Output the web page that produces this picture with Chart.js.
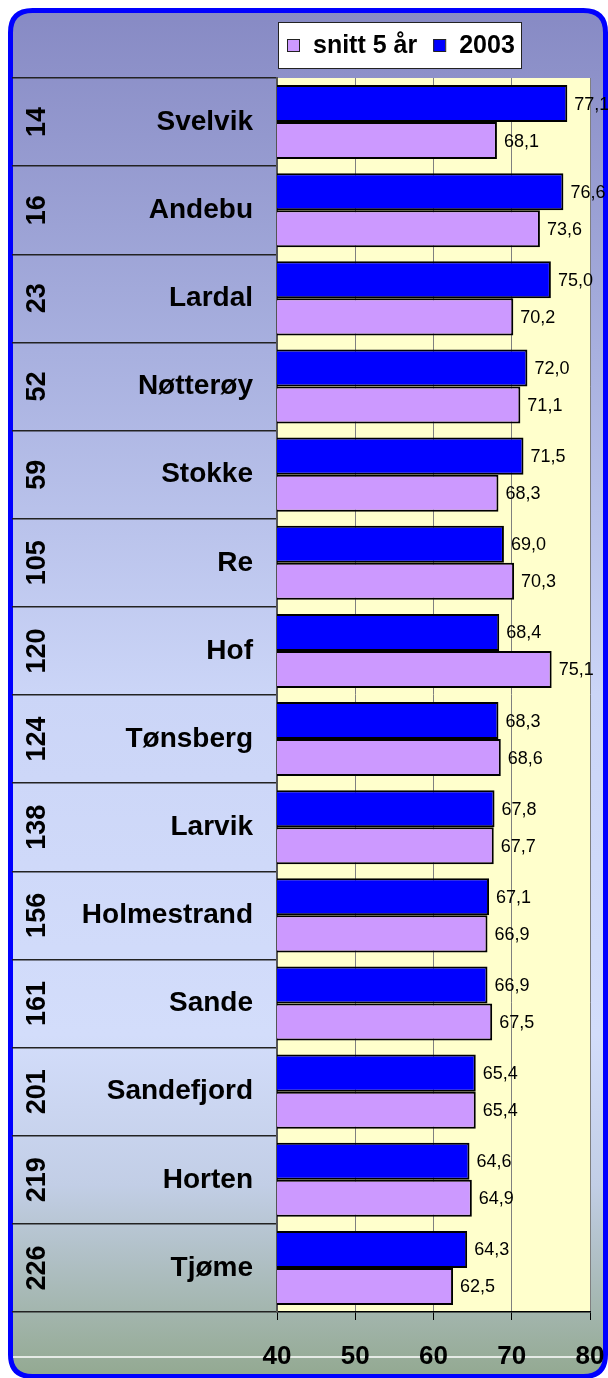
<!DOCTYPE html>
<html>
<head>
<meta charset="utf-8">
<title>Vestfold kommuner</title>
<script src="https://cdn.jsdelivr.net/npm/chart.js@4/dist/chart.umd.min.js"></script>
<style>
  html, body { margin: 0; padding: 0; background: #fff; }
  #wrap { width: 608px; height: 1378px; }
</style>
</head>
<body>
<div id="wrap"><canvas id="chart" width="608" height="1378"></canvas></div>
<script>
// data (rank, municipality, 2003 and 5-year average)
const ranks = ['14', '16', '23', '52', '59', '105', '120', '124', '138', '156', '161', '201', '219', '226'];
const names = ['Svelvik', 'Andebu', 'Lardal', 'Nøtterøy', 'Stokke', 'Re', 'Hof', 'Tønsberg', 'Larvik', 'Holmestrand', 'Sande', 'Sandefjord', 'Horten', 'Tjøme'];
const values2003 = [77.1, 76.6, 75.0, 72.0, 71.5, 69.0, 68.4, 68.3, 67.8, 67.1, 66.9, 65.4, 64.6, 64.3];
const snitt5 = [68.1, 73.6, 70.2, 71.1, 68.3, 70.3, 75.1, 68.6, 67.7, 66.9, 67.5, 65.4, 64.9, 62.5];
const xTicks = [40, 50, 60, 70, 80];

const FONT = "'Liberation Sans', Arial, sans-serif";
const fmt = v => v.toFixed(1).replace('.', ',');

function roundRect(ctx, x, y, w, h, r) {
  ctx.beginPath();
  ctx.moveTo(x + r, y);
  ctx.lineTo(x + w - r, y);
  ctx.quadraticCurveTo(x + w, y, x + w, y + r);
  ctx.lineTo(x + w, y + h - r);
  ctx.quadraticCurveTo(x + w, y + h, x + w - r, y + h);
  ctx.lineTo(x + r, y + h);
  ctx.quadraticCurveTo(x, y + h, x, y + h - r);
  ctx.lineTo(x, y + r);
  ctx.quadraticCurveTo(x, y, x + r, y);
  ctx.closePath();
}

// frame, gradient background, plot fill and the white line behind the tick labels
const frame = {
  id: 'frame',
  beforeDraw(chart) {
    const { ctx, chartArea: a } = chart;
    ctx.save();
    roundRect(ctx, 10.5, 10.5, 595, 1366, 22);
    const g = ctx.createLinearGradient(0, 10, 0, 1376);
    g.addColorStop(0, '#878ac4');
    g.addColorStop(0.25, '#a8b0df');
    g.addColorStop(0.5, '#cbd5f7');
    g.addColorStop(0.75, '#d3ddfb');
    g.addColorStop(0.86, '#c2cee6');
    g.addColorStop(1, '#93a991');
    ctx.fillStyle = g;
    ctx.fill();
    ctx.strokeStyle = '#0000ff';
    ctx.lineWidth = 5;
    ctx.stroke();
    ctx.fillStyle = '#ffffcc';
    ctx.fillRect(a.left, a.top, a.right - a.left, a.bottom - a.top);
    ctx.strokeStyle = '#ffffff';
    ctx.lineWidth = 1.5;
    ctx.beginPath();
    ctx.moveTo(13, 1357);
    ctx.lineTo(602, 1357);
    ctx.stroke();
    ctx.restore();
  }
};

// rank numbers, rotated, in the left column
const rankLabels = {
  id: 'rankLabels',
  afterDraw(chart) {
    const { ctx } = chart;
    const y = chart.scales.y;
    ctx.save();
    ctx.font = 'bold 27px ' + FONT;
    ctx.fillStyle = '#000';
    ctx.textAlign = 'center';
    ctx.textBaseline = 'middle';
    ranks.forEach((r, i) => {
      ctx.save();
      ctx.translate(37, y.getPixelForValue(i));
      ctx.rotate(-Math.PI / 2);
      ctx.fillText(r, 0, 1);
      ctx.restore();
    });
    ctx.restore();
  }
};

// value labels at the end of each bar
const valueLabels = {
  id: 'valueLabels',
  afterDatasetsDraw(chart) {
    const { ctx } = chart;
    ctx.save();
    ctx.font = '18px ' + FONT;
    ctx.fillStyle = '#000';
    ctx.textAlign = 'left';
    ctx.textBaseline = 'middle';
    chart.data.datasets.forEach((ds, di) => {
      chart.getDatasetMeta(di).data.forEach((bar, i) => {
        ctx.fillText(fmt(ds.data[i]), bar.x + 7, bar.y + 1);
      });
    });
    ctx.restore();
  }
};

// boxed legend, 'snitt 5 år' first
const boxLegend = {
  id: 'boxLegend',
  afterDraw(chart) {
    const { ctx } = chart;
    const items = [chart.data.datasets[1], chart.data.datasets[0]];
    ctx.save();
    ctx.font = 'bold 25px ' + FONT;
    ctx.fillStyle = '#fff';
    ctx.fillRect(278, 22, 243, 46);
    ctx.strokeStyle = '#222';
    ctx.lineWidth = 1;
    ctx.strokeRect(278.5, 22.5, 243, 46);
    let x = 287;
    items.forEach(ds => {
      ctx.fillStyle = ds.backgroundColor;
      ctx.fillRect(x, 39, 12, 12);
      ctx.strokeStyle = '#222';
      ctx.strokeRect(x + 0.5, 39.5, 12, 12);
      x += 26;
      ctx.fillStyle = '#000';
      ctx.textBaseline = 'middle';
      ctx.fillText(ds.label, x, 46);
      x += ctx.measureText(ds.label).width + 16;
    });
    ctx.restore();
  }
};

new Chart(document.getElementById('chart'), {
  type: 'bar',
  data: {
    labels: names,
    datasets: [
      { label: '2003', data: values2003, backgroundColor: '#0000ff', borderColor: '#000', borderWidth: 2, borderSkipped: false },
      { label: 'snitt 5 år', data: snitt5, backgroundColor: '#cc99ff', borderColor: '#000', borderWidth: 2, borderSkipped: false }
    ]
  },
  options: {
    indexAxis: 'y',
    responsive: false,
    animation: false,
    devicePixelRatio: 1,
    layout: { padding: { left: 12, right: 18, top: 78, bottom: 0 } },
    datasets: { bar: { categoryPercentage: 0.84, barPercentage: 1.0 } },
    plugins: { legend: { display: false }, tooltip: { enabled: false } },
    scales: {
      x: {
        type: 'linear',
        min: xTicks[0],
        max: xTicks[xTicks.length - 1],
        afterBuildTicks: s => { s.ticks = xTicks.map(v => ({ value: v })); },
        afterFit: s => { s.height = 66; s.paddingLeft = 0; s.paddingRight = 0; },
        grid: { color: '#808080', lineWidth: 1, tickColor: '#000', tickLength: 8 },
        border: { color: '#000', width: 1.5 },
        ticks: { font: { family: FONT, size: 26, weight: 'bold' }, color: '#000', padding: 21, maxRotation: 0 }
      },
      y: {
        afterFit: s => { s.width = 265; },
        grid: { offset: true, drawOnChartArea: false, tickLength: 265, color: '#222', lineWidth: 1.5 },
        border: { color: '#555', width: 2 },
        ticks: { font: { family: FONT, size: 28, weight: 'bold' }, color: '#000', padding: -241, autoSkip: false }
      }
    }
  },
  plugins: [frame, valueLabels, rankLabels, boxLegend]
});
</script>
</body>
</html>
